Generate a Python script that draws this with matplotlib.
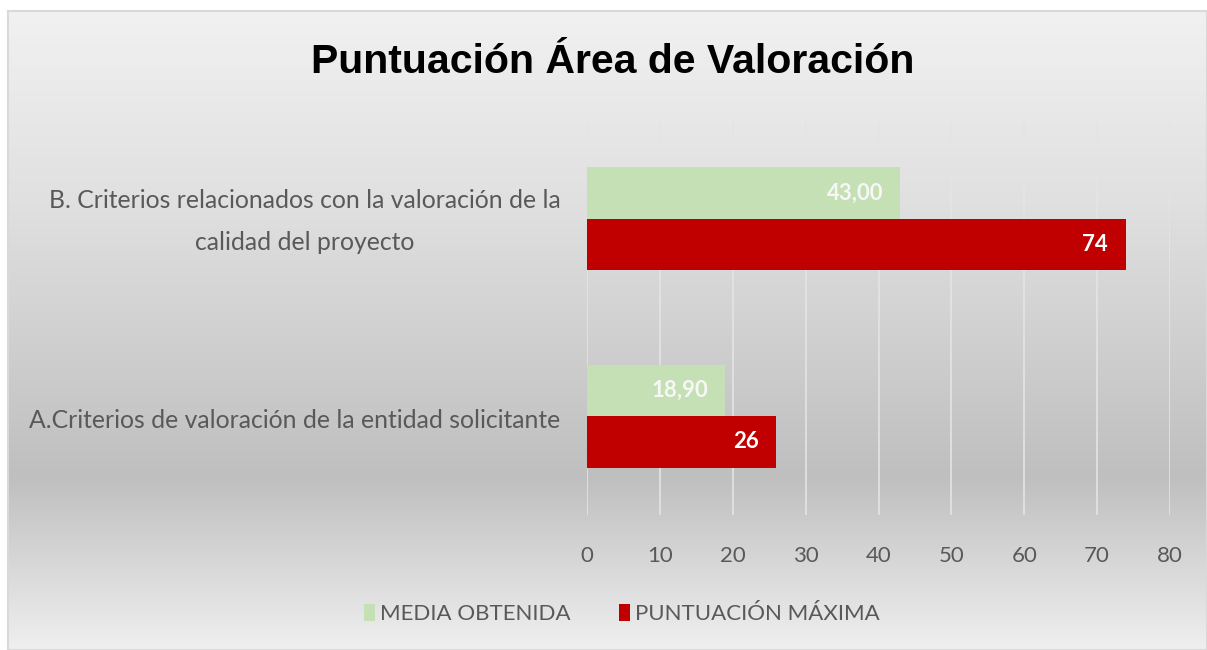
#imported libraries
import numpy as np
import matplotlib
matplotlib.use('Agg')
import matplotlib.pyplot as plt
from matplotlib.colors import LinearSegmentedColormap

#data
categorias = ['A.Criterios de valoración de la entidad solicitante',
              'B. Criterios relacionados con la valoración de la\ncalidad del proyecto']
media_obtenida = [18.90, 43.00]
puntuacion_maxima = [26, 74]
etiquetas_media = ['18,90', '43,00']
etiquetas_max = ['26', '74']
ticks_x = [0, 10, 20, 30, 40, 50, 60, 70, 80]

verde = '#c5e0b4'
rojo = '#c00000'
gris_texto = '#595959'
fuente = 'Lato'

fig = plt.figure(figsize=(12.07, 6.5), dpi=100)
fig.patch.set_facecolor('white')

#background with the gradient of the excel chart area
bg = fig.add_axes([8 / 1207, 0, 1199 / 1207, 639 / 650], zorder=0)
grad = LinearSegmentedColormap.from_list('g', [(0, '#f1f1f1'), (0.3, '#e0e0e0'),
                                              (0.73, '#bfbfbf'), (1, '#efefef')])
bg.imshow(np.linspace(0, 1, 256).reshape(-1, 1), aspect='auto', cmap=grad,
          extent=[0, 1, 0, 1], vmin=0, vmax=1)
bg.set_xlim(0, 1)
bg.set_ylim(0, 1)
for s in bg.spines.values():
    s.set_color('#d9d9d9')
    s.set_linewidth(1.5)
bg.set_xticks([])
bg.set_yticks([])

#main axes
ax = fig.add_axes([587 / 1207, 1 - 515 / 650, 583 / 1207, 395 / 650], zorder=1)
ax.patch.set_alpha(0)

y = np.arange(len(categorias))
h = 0.26
bar_media = ax.barh(y + h / 2, media_obtenida, height=h, color=verde, label='MEDIA OBTENIDA', zorder=3)
bar_max = ax.barh(y - h / 2, puntuacion_maxima, height=h, color=rojo, label='PUNTUACIÓN MÁXIMA', zorder=3)

#data labels inside the end of each bar
for i in range(len(categorias)):
    ax.annotate(etiquetas_media[i], (media_obtenida[i], y[i] + h / 2), xytext=(-12, 0),
                textcoords='offset points', ha='right', va='center', color='#f7f7f7',
                fontsize=16, fontweight='bold', family=fuente, zorder=4)
    ax.annotate(etiquetas_max[i], (puntuacion_maxima[i], y[i] - h / 2), xytext=(-13, 0),
                textcoords='offset points', ha='right', va='center', color='white',
                fontsize=16, fontweight='bold', family=fuente, zorder=4)

#category labels (drawn as text so the two-line label can sit centred)
for i, cat in enumerate(categorias):
    dy = -2.2 if '\n' in cat else -2.8
    ax.annotate(cat, (0, y[i]), xycoords=ax.get_yaxis_transform(), xytext=(-19, dy),
                textcoords='offset points', ha='right', va='center', multialignment='center',
                linespacing=2.0, fontsize=17.8, color=gris_texto, family=fuente)

ax.set_xlim(0, 80)
ax.set_ylim(-0.5, 1.5)
ax.set_xticks(ticks_x)
ax.set_yticks(y)
ax.set_yticklabels([])
ax.tick_params(axis='x', length=0, pad=22, labelsize=16, labelcolor=gris_texto)
ax.tick_params(axis='y', length=0)
for lab in ax.get_xticklabels():
    lab.set_family(fuente)
ax.grid(axis='x', color='#e4e4e4', linewidth=1.2, zorder=0)
for s in ax.spines.values():
    s.set_visible(False)

#title and legend
fig.text(613 / 1207, 1 - 62 / 650, 'Puntuación Área de Valoración', ha='center', va='center',
         fontsize=29.5, fontweight='bold', family='Liberation Sans', color='black')

fig.legend(handles=[bar_media, bar_max], loc='center', bbox_to_anchor=(622 / 1207, 1 - 614 / 650),
           ncol=2, frameon=False, prop={'family': fuente, 'size': 16}, labelcolor=gris_texto,
           handlelength=0.5, handleheight=0.8, handletextpad=0.2, columnspacing=2.2)

#saving the figure
plt.savefig('out.png', dpi=100)
